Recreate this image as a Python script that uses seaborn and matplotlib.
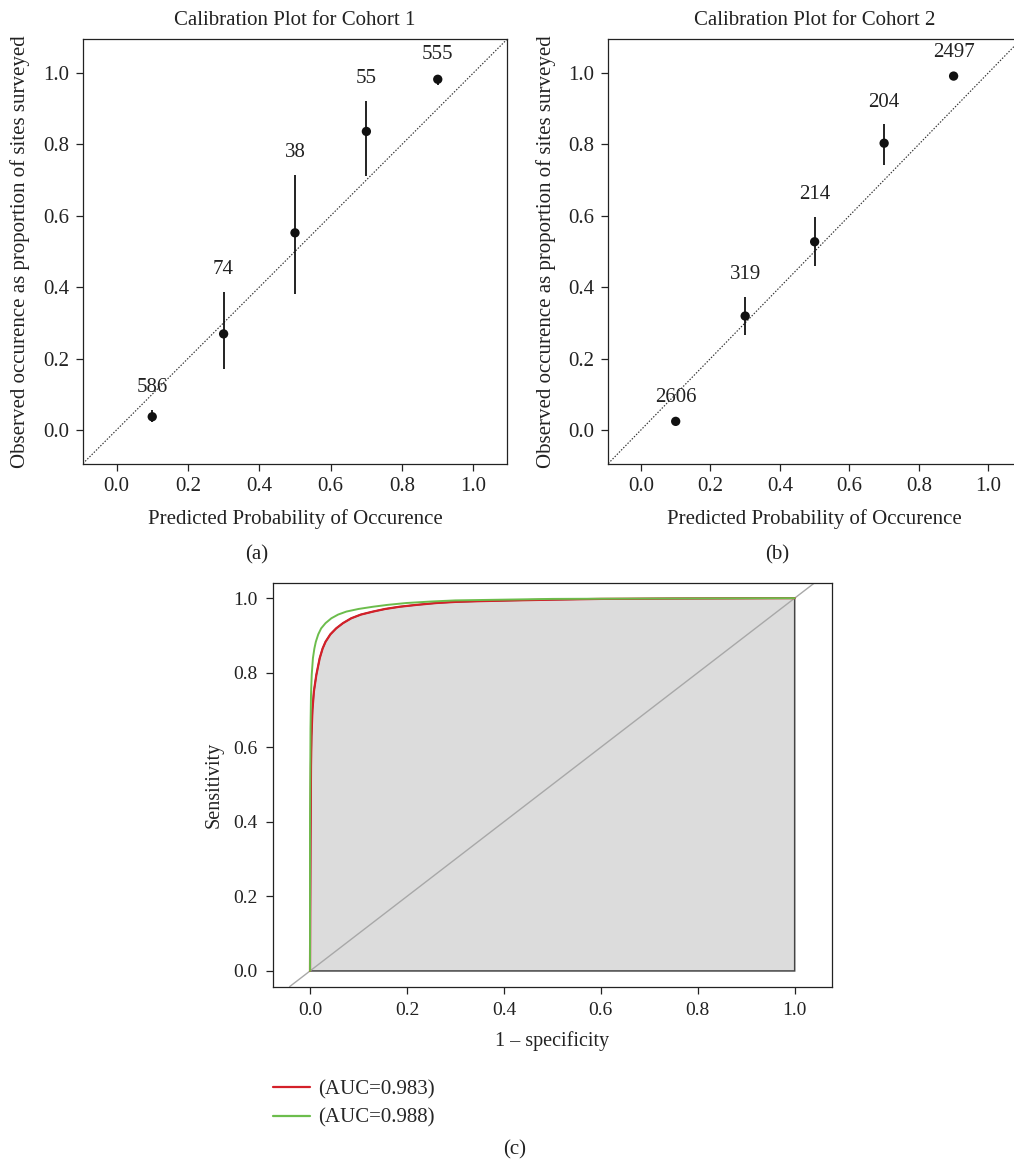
import numpy as np
import pandas as pd
import matplotlib
matplotlib.use("Agg")
import matplotlib.pyplot as plt
import seaborn as sns

# calibration bins (predicted probability)
bins = [0.1, 0.3, 0.5, 0.7, 0.9]

# cohort 1
obs_1 = [0.037, 0.269, 0.552, 0.836, 0.982]
low_1 = [0.021, 0.172, 0.380, 0.710, 0.966]
up_1 = [0.056, 0.386, 0.715, 0.922, 0.990]
n_1 = [586, 74, 38, 55, 555]

# cohort 2
obs_2 = [0.024, 0.319, 0.527, 0.803, 0.991]
low_2 = [0.018, 0.267, 0.458, 0.741, 0.988]
up_2 = [0.030, 0.372, 0.596, 0.856, 0.994]
n_2 = [2606, 319, 214, 204, 2497]

# ROC curves
fpr_red = [0, 0.001, 0.002, 0.003, 0.005, 0.008, 0.013, 0.020, 0.026, 0.032, 0.042, 0.054,
           0.068, 0.085, 0.105, 0.130, 0.155, 0.185, 0.22, 0.261, 0.30, 0.35, 0.42, 0.50,
           0.60, 0.75, 1.0]
tpr_red = [0, 0.35, 0.55, 0.63, 0.70, 0.75, 0.794, 0.839, 0.865, 0.883, 0.903, 0.919,
           0.933, 0.946, 0.956, 0.964, 0.971, 0.977, 0.982, 0.987, 0.990, 0.992, 0.994, 0.996,
           0.998, 0.999, 1.0]
fpr_green = [0, 0.0, 0.001, 0.002, 0.0035, 0.006, 0.009, 0.012, 0.017, 0.023, 0.032, 0.044,
             0.058, 0.075, 0.10, 0.130, 0.16, 0.199, 0.25, 0.30, 0.40, 0.50, 0.70, 1.0]
tpr_green = [0, 0.40, 0.65, 0.74, 0.794, 0.839, 0.865, 0.883, 0.903, 0.919, 0.933, 0.946,
             0.956, 0.964, 0.971, 0.977, 0.982, 0.987, 0.991, 0.994, 0.996, 0.998, 0.999, 1.0]
auc_labels = ["(AUC=0.983)", "(AUC=0.988)"]

sns.set_style("ticks")
plt.rcParams['font.family'] = ['Liberation Serif', 'DejaVu Serif']
plt.rcParams['axes.linewidth'] = 0.9
plt.rcParams['axes.edgecolor'] = '#222222'

FS = 15
TXT = '#222222'
fig = plt.figure(figsize=(10.14, 11.62), dpi=100)
W, H = 1014, 1162


def box(l, t, r, b):
    return [l / W, 1 - b / H, (r - l) / W, (b - t) / H]


def calib_panel(ax, obs, low, up, n, title):
    df = pd.DataFrame({'pred': bins, 'obs': obs, 'low': low, 'up': up, 'n': n})
    ax.axline((0, 0), (1, 1), color='#333333', lw=0.85, ls=(0, (1.2, 1.4)))
    ax.vlines(df['pred'], df['low'], df['up'], color='#111111', lw=1.3)
    sns.scatterplot(data=df, x='pred', y='obs', ax=ax, color='#111111', s=45,
                    edgecolor='none', zorder=3)
    for _, r in df.iterrows():
        ax.text(r['pred'], r['up'] + 0.062, str(int(r['n'])), ha='center', va='center',
                fontsize=FS, color=TXT)
    ax.set_xlim(-0.094, 1.094)
    ax.set_ylim(-0.094, 1.094)
    ticks = np.arange(0, 1.01, 0.2)
    ax.set_xticks(ticks)
    ax.set_yticks(ticks)
    ax.set_xticklabels([f"{t:.1f}" for t in ticks])
    ax.set_yticklabels([f"{t:.1f}" for t in ticks])
    ax.tick_params(labelsize=FS, length=5, width=0.9, pad=5, colors=TXT)
    ax.set_xlabel('Predicted Probability of Occurence', fontsize=FS, labelpad=9, color=TXT)
    ax.set_ylabel('Observed occurence as proportion of sites surveyed', fontsize=FS,
                  labelpad=9, color=TXT)
    ax.set_title(title, fontsize=FS, pad=10, color=TXT)
    for s in ax.spines.values():
        s.set_visible(True)


ax1 = fig.add_axes(box(83, 39.3, 507, 463.5))
calib_panel(ax1, obs_1, low_1, up_1, n_1, 'Calibration Plot for Cohort 1')
ax2 = fig.add_axes(box(608.3, 39.3, 1021, 463.5))
calib_panel(ax2, obs_2, low_2, up_2, n_2, 'Calibration Plot for Cohort 2')

# ROC panel
ax3 = fig.add_axes(box(272.7, 582.5, 832, 986.6))
roc_red = pd.DataFrame({'fpr': fpr_red, 'tpr': tpr_red})
roc_green = pd.DataFrame({'fpr': fpr_green, 'tpr': tpr_green})
poly_x = list(roc_red['fpr']) + [1, 0]
poly_y = list(roc_red['tpr']) + [0, 0]
ax3.fill(poly_x, poly_y, facecolor='#dcdcdc', edgecolor='#444444', lw=1.1, zorder=1)
ax3.axline((0, 0), (1, 1), color='#a8a8a8', lw=1.0, zorder=2)
sns.lineplot(data=roc_red, x='fpr', y='tpr', ax=ax3, sort=False, estimator=None,
             color='#d42029', lw=1.6, label=auc_labels[0], zorder=3)
sns.lineplot(data=roc_green, x='fpr', y='tpr', ax=ax3, sort=False, estimator=None,
             color='#6cbd4c', lw=1.4, label=auc_labels[1], zorder=4)
ax3.set_xlim(-0.077, 1.077)
ax3.set_ylim(-0.042, 1.042)
ticks = np.arange(0, 1.01, 0.2)
ax3.set_xticks(ticks)
ax3.set_yticks(ticks)
ax3.set_xticklabels([f"{t:.1f}" for t in ticks])
ax3.set_yticklabels([f"{t:.1f}" for t in ticks])
ax3.tick_params(labelsize=14, length=5, width=0.9, pad=6, colors=TXT)
ax3.set_xlabel('1 – specificity', fontsize=14.5, labelpad=9, color=TXT)
ax3.set_ylabel('Sensitivity', fontsize=14.5, labelpad=7, color=TXT)
for s in ax3.spines.values():
    s.set_visible(True)
leg = ax3.legend(loc='upper left', bbox_to_anchor=(263 / W, 1 - 1069 / H),
                 bbox_transform=fig.transFigure, frameon=False, fontsize=15,
                 handlelength=1.75, handletextpad=0.4, labelspacing=0.45, borderpad=0)
for line in leg.get_lines():
    line.set_linewidth(1.6)

fig.text(257 / W, 1 - 555 / H, '(a)', ha='center', va='center', fontsize=FS, color=TXT)
fig.text(777 / W, 1 - 555 / H, '(b)', ha='center', va='center', fontsize=FS, color=TXT)
fig.text(515 / W, 1 - 1150 / H, '(c)', ha='center', va='center', fontsize=FS, color=TXT)

fig.savefig('out.png', dpi=100)
